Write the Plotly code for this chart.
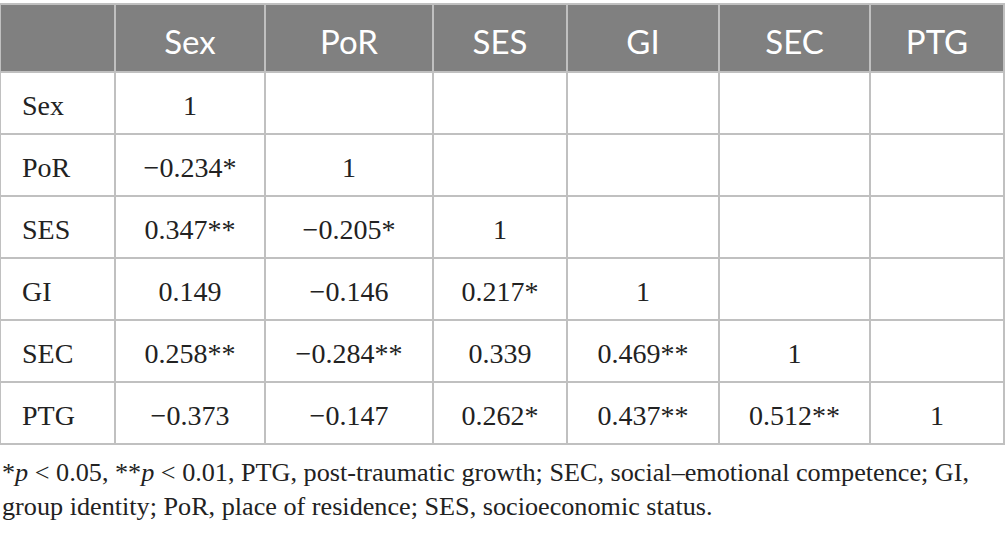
import plotly.graph_objects as go

# column headers and row labels
headers = ["", "Sex", "PoR", "SES", "GI", "SEC", "PTG"]
row_labels = ["Sex", "PoR", "SES", "GI", "SEC", "PTG"]

# correlation values (lower triangle), one list per column
col_sex = ["1", "\u22120.234*", "0.347**", "0.149", "0.258**", "\u22120.373"]
col_por = ["", "1", "\u22120.205*", "\u22120.146", "\u22120.284**", "\u22120.147"]
col_ses = ["", "", "1", "0.217*", "0.339", "0.262*"]
col_gi = ["", "", "", "1", "0.469**", "0.437**"]
col_sec = ["", "", "", "", "1", "0.512**"]
col_ptg = ["", "", "", "", "", "1"]

footnote = ("*<i>p</i> < 0.05, **<i>p</i> < 0.01, PTG, post-traumatic growth; "
            "SEC, social\u2013emotional competence; GI,<br>"
            "group identity; PoR, place of residence; SES, socioeconomic status.")

col_widths = [115, 150, 168, 134, 152, 151, 134]
W, H = 1005, 534
grid = "#c0c0c0"
clear = "rgba(0,0,0,0)"
# en space gives the first column its wider left indent
labels_padded = ["\u2002" + s for s in row_labels]
cell_values = [labels_padded, col_sex, col_por, col_ses, col_gi, col_sec, col_ptg]
blank = [[""] * len(row_labels) for _ in headers]
aligns = ["left"] + ["center"] * 6

fig = go.Figure()

# grid and fills
fig.add_trace(go.Table(
    columnwidth=col_widths,
    domain=dict(x=[0, 1004 / W], y=[0, 1 - 4 / H]),
    header=dict(values=[""] * len(headers), fill_color="#808080",
                line=dict(color=grid, width=2), height=68),
    cells=dict(values=blank, fill_color="white",
               line=dict(color=grid, width=2), height=62),
))

# text layer, nudged down so it sits in the middle of each cell
fig.add_trace(go.Table(
    columnwidth=col_widths,
    domain=dict(x=[0, 1004 / W], y=[0, 1 - 21 / H]),
    header=dict(values=headers, fill_color=clear, line=dict(color=clear, width=0),
                font=dict(family="Lato", size=33, color="white"),
                align="center", height=64.5),
    cells=dict(values=cell_values, fill_color=clear, line=dict(color=clear, width=0),
               font=dict(family="Liberation Serif", size=28, color="#222222"),
               align=aligns, height=62),
))

fig.add_annotation(
    text=footnote, xref="paper", yref="paper", x=0, y=1 - 456 / H,
    xanchor="left", yanchor="top", align="left", showarrow=False,
    font=dict(family="Liberation Serif", size=26.2, color="#222222"),
)

fig.update_layout(
    width=W, height=H,
    margin=dict(l=0, r=0, t=0, b=0),
    paper_bgcolor="white",
)

fig.write_html("out.html", config={"displayModeBar": False},
               post_script="document.body.style.margin='0';")
